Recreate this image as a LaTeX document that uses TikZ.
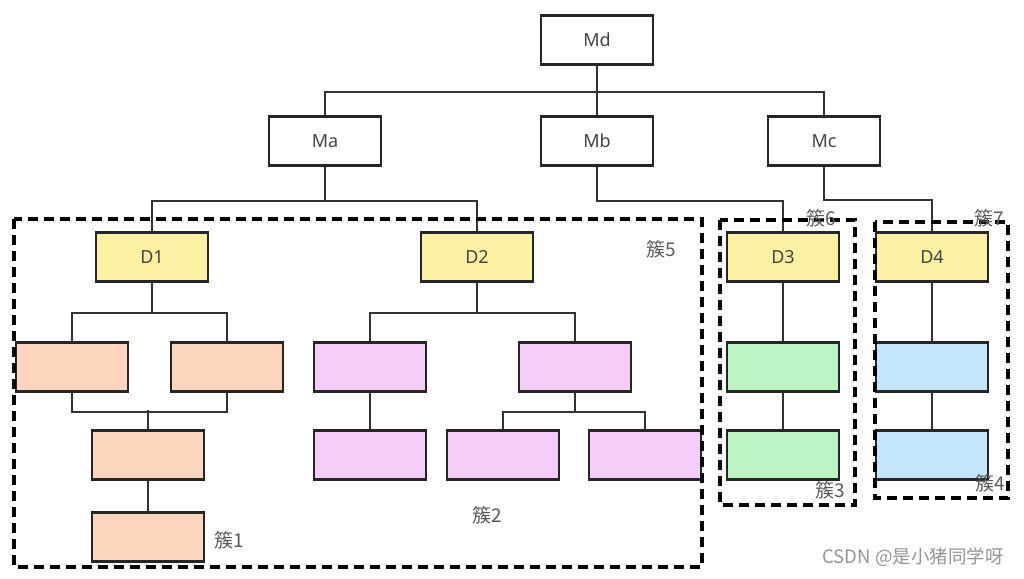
\documentclass[tikz,border=0pt]{standalone}
\usepackage{fontspec}
\setsansfont{Noto Sans}
\newfontfamily\cjk{Noto Sans CJK SC}
\usetikzlibrary{positioning}
\definecolor{mgray}{HTML}{444444}
\definecolor{myellow}{HTML}{FCF1A3}
\definecolor{mpeach}{HTML}{FDD5BF}
\definecolor{mpink}{HTML}{F6CDF8}
\definecolor{mgreen}{HTML}{BEF4C3}
\definecolor{mblue}{HTML}{C4E6FA}

\begin{document}
\begin{tikzpicture}[x=1pt,y=-1pt,
		box/.style={draw=black!85,line width=2.7pt,minimum width=112pt,minimum height=49pt,
			inner sep=0pt,font=\sffamily\fontsize{18}{20}\selectfont,text=mgray},
		link/.style={draw=black!80,line width=2pt},
		cluster/.style={draw=black,line width=4pt,dash pattern=on 10pt off 6pt},
		tag/.style={font=\cjk\fontsize{19}{21}\selectfont,text=black!65}
	]
	\useasboundingbox (0,0) rectangle (1024,578);

	% the managers
	\foreach \n/\x/\y in {Md/597/40,Ma/325/141,Mb/597/141,Mc/824/141}
		\node[box,fill=white] (\n) at (\x,\y) {\n};

	% the cluster heads
	\foreach \n/\x in {D1/152,D2/477,D3/783,D4/932}
		\node[box,fill=myellow] (\n) at (\x,257) {\n};

	% the members
	\foreach \n/\x/\y in {a1/72/367,a2/227/367,a3/148/455,a4/148/537}
		\node[box,fill=mpeach] (\n) at (\x,\y) {};
	\foreach \n/\x/\y in {b1/370/367,b2/575/367,b3/370/455,b4/503/455,b5/645/455}
		\node[box,fill=mpink] (\n) at (\x,\y) {};
	\foreach \n/\y in {c1/367,c2/455}
		\node[box,fill=mgreen] (\n) at (783,\y) {};
	\foreach \n/\y in {e1/367,e2/455}
		\node[box,fill=mblue] (\n) at (932,\y) {};

	% the links
	\draw[link] (Md.south) -- ++(0,26) -| (Ma.north);
	\draw[link] (Md.south) -- ++(0,26) -| (Mc.north);
	\draw[link] (Md) -- (Mb);
	\draw[link] (Ma.south) -- ++(0,34) -| (D1.north);
	\draw[link] (Ma.south) -- ++(0,34) -| (D2.north);
	\draw[link] (Mb.south) -- ++(0,34) -| (D3.north);
	\draw[link] (Mc.south) -- ++(0,33) -| (D4.north);
	\draw[link] (D1.south) -- ++(0,30) -| (a1.north);
	\draw[link] (D1.south) -- ++(0,30) -| (a2.north);
	\draw[link] (a1.south) -- ++(0,19) -| (a2.south);
	\draw[link] (a3.north) -- ++(0,-19);
	\draw[link] (a3) -- (a4);
	\draw[link] (D2.south) -- ++(0,30) -| (b1.north);
	\draw[link] (D2.south) -- ++(0,30) -| (b2.north);
	\draw[link] (b1) -- (b3);
	\draw[link] (b2.south) -- ++(0,19) -| (b4.north);
	\draw[link] (b2.south) -- ++(0,19) -| (b5.north);
	\draw[link] (D3) -- (c1);
	\draw[link] (c1) -- (c2);
	\draw[link] (D4) -- (e1);
	\draw[link] (e1) -- (e2);

	% the clusters
	\draw[cluster] (14,219) rectangle (702,567);
	\draw[cluster] (720,220) rectangle (855,505);
	\draw[cluster] (875,222) rectangle (1008,498);

	% the cluster names
	\node[tag] (k1) at (229,540) {簇1};
	\node[tag] (k2) at (487,515) {簇2};
	\node[tag] (k3) at (830,490) {簇3};
	\node[tag] (k4) at (990,483) {簇4};
	\node[tag] (k5) at (661,249) {簇5};
	\node[tag] (k6) at (821,218) {簇6};
	\node[tag] (k7) at (989,218) {簇7};

	\node[font=\cjk\fontsize{18.5}{20}\selectfont,text=black!42] (mark) at (913,557) {CSDN @是小猪同学呀};
\end{tikzpicture}
\end{document}
